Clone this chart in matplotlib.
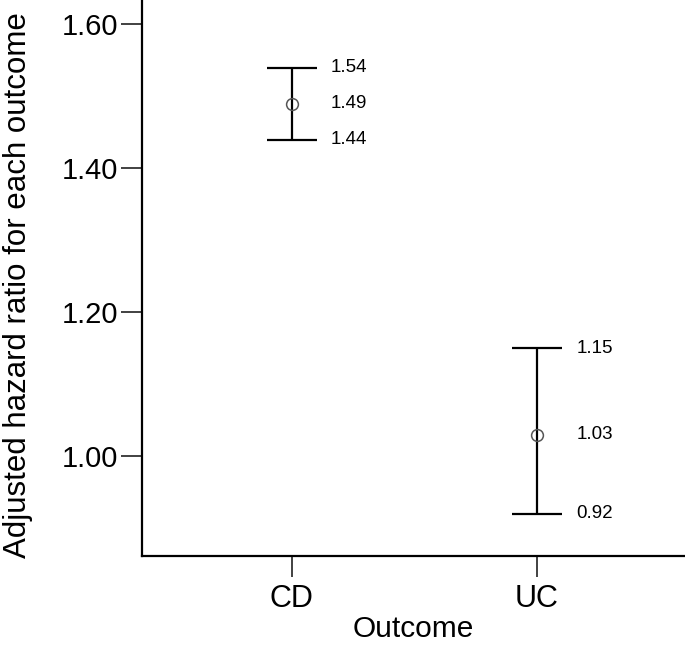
import matplotlib
matplotlib.use("Agg")
import matplotlib.pyplot as plt

categories = ["CD", "UC"]
hr = [1.49, 1.03]
lower = [1.44, 0.92]
upper = [1.54, 1.15]
yticks = [1.00, 1.20, 1.40, 1.60]

plt.rcParams['font.family'] = ['Liberation Sans', 'DejaVu Sans']

fig = plt.figure(figsize=(6.85, 6.46), dpi=100)
ax = fig.add_axes([0.207, 0.139, 0.793, 0.861])

x = list(range(len(categories)))
yerr = [[h - l for h, l in zip(hr, lower)], [u - h for h, u in zip(hr, upper)]]
ax.errorbar(x, hr, yerr=yerr, fmt='none', ecolor='black', elinewidth=1.6,
            capsize=18, capthick=1.6)
ax.plot(x, hr, 'o', mfc='none', mec='#555555', ms=8.5, mew=1.1, zorder=3)

for xi, h, l, u in zip(x, hr, lower, upper):
    for v in (h, l, u):
        ax.text(xi + 0.16, v, f"{v:.2f}", va='center', ha='left', fontsize=13.5)

ax.set_xlim(-0.612, 1.604)
ax.set_ylim(0.861, 1.634)
ax.set_xticks(x)
ax.set_xticklabels(categories)
ax.set_yticks(yticks)
ax.set_yticklabels([f"{t:.2f}" for t in yticks])
ax.tick_params(axis='both', length=15, width=1.3, color='#333333')
ax.tick_params(axis='x', labelsize=22, pad=5)
ax.tick_params(axis='y', labelsize=21, pad=2)
for s in ['top', 'right']:
    ax.spines[s].set_visible(False)
for s in ['left', 'bottom']:
    ax.spines[s].set_linewidth(1.6)

ax.set_xlabel("Outcome", fontsize=21.5, labelpad=1)
ax.set_ylabel("Adjusted hazard ratio for each outcome", fontsize=22.5)
ax.yaxis.set_label_coords(-0.2, 0.487)

fig.savefig("out.png", dpi=100)
